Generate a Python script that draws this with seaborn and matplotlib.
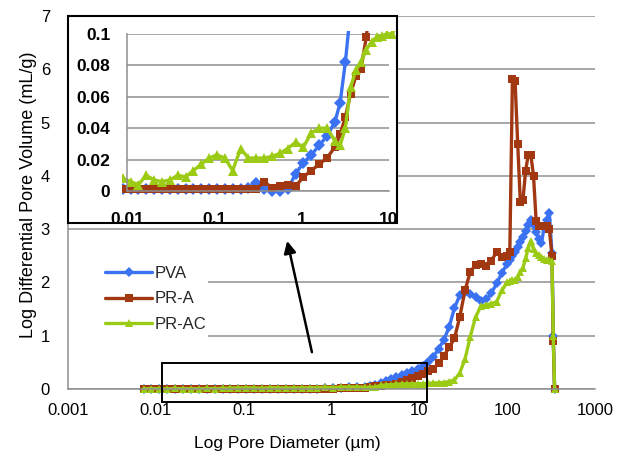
import matplotlib
matplotlib.use("Agg")
import matplotlib.pyplot as plt
import seaborn as sns
import numpy as np
import pandas as pd
from matplotlib.patches import Rectangle
from matplotlib.transforms import Bbox, TransformedBbox
from matplotlib.ticker import FixedLocator, NullLocator

# ---------------- data ----------------
diameter_um = [0.00724, 0.00891, 0.0110, 0.0135, 0.0166, 0.0204, 0.0251, 0.0309, 0.0380, 0.0468,
               0.0575, 0.0708, 0.0871, 0.107, 0.132, 0.162, 0.200, 0.245, 0.302, 0.372,
               0.457, 0.562, 0.692, 0.851, 1.047, 1.288, 1.585, 1.950, 2.399, 2.754,
               3.162, 3.631, 4.169, 4.786, 5.495, 6.310, 7.244, 8.318, 9.550, 10.96,
               12.59, 14.45, 16.60, 19.05, 21.88, 25.12, 28.84, 33.11, 38.02, 43.65,
               50.12, 57.54, 66.07, 75.86, 87.10, 100.0, 107.2, 114.8, 123.0, 131.8,
               141.3, 151.4, 162.2, 173.8, 186.2, 199.5, 213.8, 229.1, 245.5, 263.0,
               281.8, 302.0, 323.6, 335.0, 346.7]

pva = [0.001, 0.001, 0.001, 0.001, 0.001, 0.001, 0.001, 0.001, 0.001, 0.001,
       0.001, 0.001, 0.001, 0.001, 0.001, 0.001, 0.001, 0.002, 0.005, 0.001,
       0.0, 0.0, 0.001, 0.011, 0.018, 0.023, 0.029, 0.035, 0.044, 0.056,
       0.082, 0.115, 0.145, 0.18, 0.22, 0.26, 0.30, 0.34, 0.38, 0.43,
       0.50, 0.60, 0.76, 0.92, 1.17, 1.52, 1.76, 1.82, 1.78, 1.72,
       1.65, 1.68, 1.80, 1.98, 2.18, 2.35, 2.42, 2.50, 2.58, 2.66,
       2.76, 2.86, 2.96, 3.07, 3.17, 3.08, 2.95, 2.82, 2.74, 3.02,
       3.18, 3.30, 2.55, 1.00, 0.0]

pr_a = [0.001, 0.001, 0.001, 0.001, 0.001, 0.001, 0.001, 0.001, 0.001, 0.001,
        0.001, 0.001, 0.001, 0.001, 0.001, 0.001, 0.001, 0.001, 0.001, 0.006,
        0.002, 0.003, 0.004, 0.003, 0.009, 0.013, 0.017, 0.021, 0.028, 0.036,
        0.047, 0.062, 0.073, 0.078, 0.098, 0.13, 0.16, 0.20, 0.25, 0.29,
        0.33, 0.38, 0.48, 0.62, 0.78, 0.95, 1.35, 1.85, 2.20, 2.33,
        2.34, 2.30, 2.40, 2.58, 2.48, 2.50, 2.58, 5.82, 5.78, 4.60,
        3.50, 3.55, 4.10, 4.39, 4.39, 4.00, 3.15, 3.05, 3.05, 3.05,
        3.05, 3.00, 2.50, 0.90, 0.0]

pr_ac = [0.004, 0.008, 0.006, 0.004, 0.010, 0.007, 0.006, 0.007, 0.010, 0.009,
         0.013, 0.017, 0.021, 0.023, 0.021, 0.013, 0.027, 0.021, 0.021, 0.021,
         0.022, 0.024, 0.027, 0.031, 0.028, 0.037, 0.040, 0.040, 0.032, 0.029,
         0.040, 0.066, 0.077, 0.082, 0.090, 0.095, 0.098, 0.099, 0.100, 0.10,
         0.11, 0.11, 0.12, 0.12, 0.14, 0.17, 0.30, 0.56, 0.98, 1.35,
         1.55, 1.58, 1.60, 1.64, 1.85, 2.00, 2.02, 2.04, 2.05, 2.10,
         2.20, 2.28, 2.45, 2.65, 2.78, 2.62, 2.55, 2.52, 2.48, 2.44,
         2.43, 2.42, 2.40, 1.00, 0.0]

series_names = ["PVA", "PR-A", "PR-AC"]
main_xticks = [0.001, 0.01, 0.1, 1, 10, 100, 1000]
main_xticklabels = ["0.001", "0.01", "0.1", "1", "10", "100", "1000"]
main_yticks = [0, 1, 2, 3, 4, 5, 6, 7]
inset_xticks = [0.01, 0.1, 1, 10]
inset_xticklabels = ["0.01", "0.1", "1", "10"]
inset_yticks = [0, 0.02, 0.04, 0.06, 0.08, 0.1]
inset_yticklabels = ["0", "0.02", "0.04", "0.06", "0.08", "0.1"]

df = pd.DataFrame({
    "Diameter": diameter_um * 3,
    "Volume": pva + pr_a + pr_ac,
    "Sample": [series_names[0]] * len(pva) + [series_names[1]] * len(pr_a) + [series_names[2]] * len(pr_ac),
})

palette = {"PVA": "#3A72F2", "PR-A": "#A23812", "PR-AC": "#9BCB14"}
markers = {"PVA": "D", "PR-A": "s", "PR-AC": "^"}
msizes_main = {"PVA": 5.2, "PR-A": 5.5, "PR-AC": 6.3}
msizes_inset = {"PVA": 5.8, "PR-A": 6.2, "PR-AC": 7.0}

# ---------------- style ----------------
sns.set_theme(style="white")
plt.rcParams["font.family"] = ["Liberation Sans", "DejaVu Sans"]

W, H = 621, 462
fig = plt.figure(figsize=(W / 100, H / 100), dpi=100)


def fr(l, t, r, b):
    return [l / W, 1 - b / H, (r - l) / W, (b - t) / H]


GRID = "#8f8f8f"

# ---------------- main axes ----------------
ax = fig.add_axes(fr(68, 16, 595, 389))
ax.set_xscale("log")
sns.lineplot(data=df, x="Diameter", y="Volume", hue="Sample", style="Sample",
             markers=markers, dashes=False, palette=palette, markersize=5,
             linewidth=2.4, markeredgewidth=0, errorbar=None, ax=ax, legend=True)
for line, name in zip(ax.lines[:3], series_names):
    line.set_clip_on(False)
    line.set_markersize(msizes_main[name])

ax.set_xlim(1e-3, 1e3)
ax.set_ylim(0, 7)
ax.xaxis.set_major_locator(FixedLocator(main_xticks))
ax.set_xticklabels(main_xticklabels)
ax.xaxis.set_minor_locator(NullLocator())
ax.set_yticks(main_yticks)
ax.set_axisbelow(True)
ax.grid(axis="y", color=GRID, lw=1.1)
ax.grid(axis="x", visible=False)
for s in ["top", "right"]:
    ax.spines[s].set_visible(False)
for s in ["left", "bottom"]:
    ax.spines[s].set_color(GRID)
    ax.spines[s].set_linewidth(1.1)
ax.tick_params(axis="both", length=0, labelsize=12, colors="black")
ax.tick_params(axis="y", pad=13)
ax.tick_params(axis="x", pad=10)

ax.set_xlabel("Log Pore Diameter (µm)", fontsize=12.5, color="black")
ax.xaxis.set_label_coords(0.416, -0.125)
ax.set_ylabel("Log Differential Pore Volume (mL/g)", fontsize=13, color="black")
ax.yaxis.set_label_coords(-0.058, 0.52)

# legend on a white patch
ax.add_patch(Rectangle((0, 0.123), 0.266, 0.255, transform=ax.transAxes,
                       fc="white", ec="none", zorder=1.5))
handles, labels = ax.get_legend_handles_labels()
for h, name in zip(handles, labels):
    h.set_markersize(msizes_main.get(name, 5.5))
leg = ax.legend(handles, labels, loc="upper left", bbox_to_anchor=(0.055, 0.352),
                frameon=False, borderpad=0, handlelength=2.8, handletextpad=0.15,
                labelspacing=0.62, fontsize=12)

# zoom box + arrow
ax.add_patch(Rectangle((0.0117, -0.24), 12.3 - 0.0117, 0.73, fill=False,
                       ec="black", lw=1.4, clip_on=False, zorder=3))
ax.annotate("", xy=(0.308, 2.83), xytext=(0.608, 0.64),
            arrowprops=dict(arrowstyle="-|>", color="black", lw=1.8, mutation_scale=18),
            annotation_clip=False)

# ---------------- inset ----------------
fig.add_artist(Rectangle((68 / W, 1 - 223 / H), (397 - 68) / W, (223 - 16) / H,
                         transform=fig.transFigure, fc="white", ec="none", zorder=1))
axi = fig.add_axes(fr(127, 34, 389, 191))
axi.set_zorder(2)
axi.patch.set_alpha(0)
axi.set_xscale("log")
sns.lineplot(data=df, x="Diameter", y="Volume", hue="Sample", style="Sample",
             markers=markers, dashes=False, palette=palette, markersize=5,
             linewidth=2.4, markeredgewidth=0, errorbar=None, ax=axi, legend=False)
clip = TransformedBbox(Bbox([[-0.02, -0.1], [1.03, 1.02]]), axi.transAxes)
for line, name in zip(axi.lines[:3], series_names):
    line.set_clip_box(clip)
    line.set_markersize(msizes_inset[name])
axi.set_xlim(0.01, 10)
axi.set_ylim(0, 0.1)
axi.xaxis.set_major_locator(FixedLocator(inset_xticks))
axi.set_xticklabels(inset_xticklabels)
axi.xaxis.set_minor_locator(NullLocator())
axi.set_yticks(inset_yticks)
axi.set_yticklabels(inset_yticklabels)
axi.set_axisbelow(True)
axi.grid(axis="y", color=GRID, lw=1.1)
axi.grid(axis="x", visible=False)
for s in ["top", "right"]:
    axi.spines[s].set_visible(False)
for s in ["left", "bottom"]:
    axi.spines[s].set_color(GRID)
    axi.spines[s].set_linewidth(1.1)
axi.tick_params(axis="both", length=0, labelsize=12.5, colors="black")
axi.tick_params(axis="y", pad=12)
axi.tick_params(axis="x", pad=15)
for t in axi.get_xticklabels() + axi.get_yticklabels():
    t.set_fontweight("bold")
axi.set_xlabel("")
axi.set_ylabel("")

fig.add_artist(Rectangle((68 / W, 1 - 223 / H), (397 - 68) / W, (223 - 16) / H,
                         transform=fig.transFigure, fill=False, ec="black", lw=1.5, zorder=3))

fig.savefig("out.png", dpi=100)
